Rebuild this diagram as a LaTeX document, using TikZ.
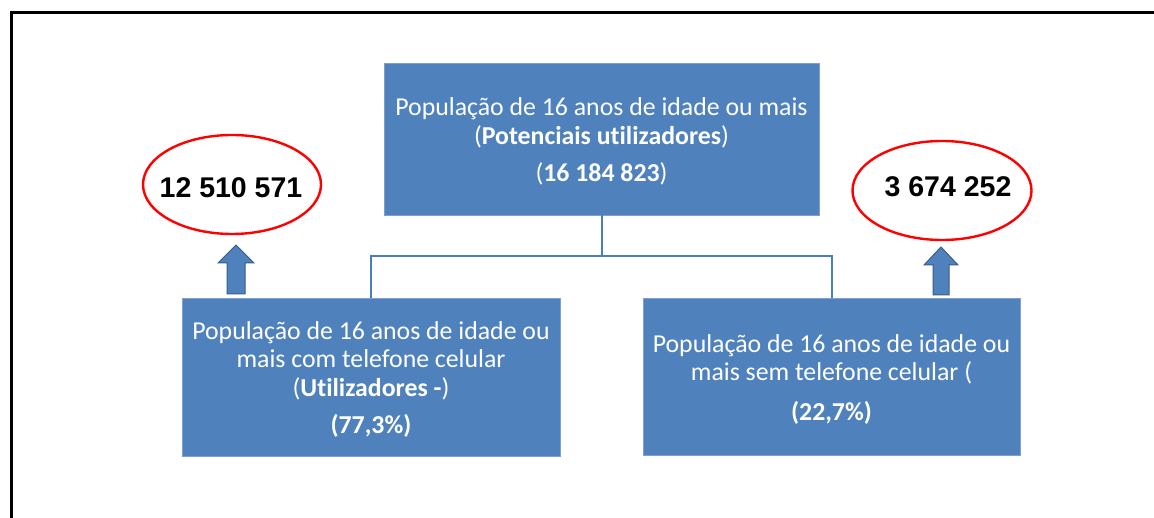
\documentclass[tikz,border=0pt]{standalone}
\usepackage{fontspec}
\setmainfont{Carlito}[Ligatures={NoCommon}]
\newfontfamily\numfont{Liberation Sans}
\usetikzlibrary{shapes.geometric,calc}
\definecolor{boxblue}{HTML}{4F81BD}
\definecolor{boxedge}{HTML}{7F9FCF}
\definecolor{linkblue}{HTML}{4A7EBB}
\definecolor{arrowedge}{HTML}{385D8A}
\definecolor{ringred}{HTML}{FF0000}
\newcommand{\topstrut}{\rule{0pt}{23pt}}
\tikzset{
  bluebox/.style={rectangle, fill=boxblue, draw=boxedge, line width=0.8pt, inner sep=0pt,
    text=white, align=center, font=\fontsize{25.8}{28.5}\selectfont},
  ring/.style={ellipse, draw=ringred, line width=2.4pt, inner sep=0pt},
  numtext/.style={font=\numfont\bfseries\fontsize{28.5}{34}\selectfont, text=black, inner sep=0pt},
  link/.style={draw=linkblue, line width=2pt},
  blockarrow/.style={fill=boxblue, draw=arrowedge, line width=1pt, line join=miter}
}
\begin{document}
\begin{tikzpicture}[x=1pt,y=-1pt]
\useasboundingbox (0,0) rectangle (1154,518);
% frame
\draw[line width=3pt] (11,520) -- (11,13) -- (1156,13);

% boxes
\node[bluebox, minimum width=435pt, minimum height=152pt] (top) at (601.5,139)
  {\topstrut Popula\c{c}\~ao de 16 anos de idade ou mais\\
   (\textbf{Potenciais utilizadores})\\[9pt]
   (\textbf{16 184 823})};
\node[bluebox, minimum width=378pt, minimum height=158pt] (left) at (371,377)
  {\topstrut Popula\c{c}\~ao de 16 anos de idade ou\\
   mais com telefone celular\\
   (\textbf{Utilizadores -})\\[9pt]
   \textbf{(77,3\%)}};
\node[bluebox, minimum width=377pt, minimum height=157pt] (right) at (831.5,376.5)
  {\topstrut Popula\c{c}\~ao de 16 anos de idade ou\\
   mais sem telefone celular (\\[11pt]
   \textbf{(22,7\%)}};

% connectors
\coordinate (mid) at ($(top.south)+(0,41)$);
\draw[link] (top.south) -- (mid);
\draw[link] (left.north) |- (mid) -| (right.north);

% ellipses
\node[ring, minimum width=178pt, minimum height=99pt] (lring) at (232,184.5) {};
\node[numtext] (lnum) at (231,188) {12 510 571};
\node[ring, minimum width=179pt, minimum height=99pt] (rring) at (942,190.5) {};
\node[numtext] (rnum) at (948,187) {3 674 252};

% block arrows
\coordinate (la) at (236,294);
\filldraw[blockarrow] (la) ++(-9,0) -- ++(0,-31) -- ++(-9,0) -- ++(18,-18) -- ++(18,18) -- ++(-9,0) -- ++(0,31) -- cycle;
\coordinate (ra) at (941,295);
\filldraw[blockarrow] (ra) ++(-8,0) -- ++(0,-30) -- ++(-9,0) -- ++(17,-18) -- ++(17,18) -- ++(-9,0) -- ++(0,30) -- cycle;
\end{tikzpicture}
\end{document}
